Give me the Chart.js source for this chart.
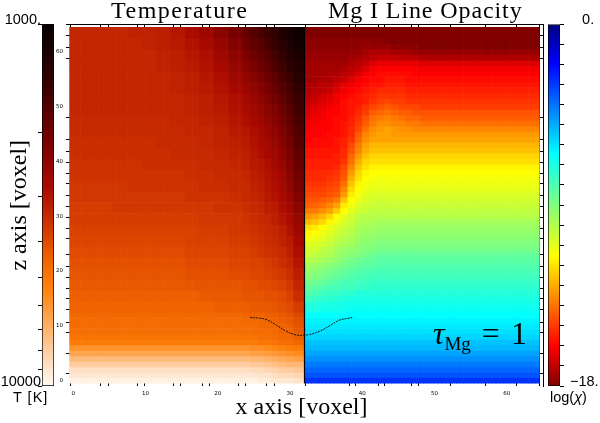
<!DOCTYPE html>
<html>
<head>
<meta charset="utf-8">
<title>Temperature and Mg I line opacity</title>
<script src="https://cdn.jsdelivr.net/npm/chart.js@4"></script>
<style>
	body { margin: 0; background: #fff; }
	#wrap { position: relative; width: 600px; height: 423px; overflow: hidden; }
	canvas { position: absolute; left: 0; top: 0; }
	#tempbar { left: 0; }
	#chibar { left: 500px; }
	.lab { position: absolute; white-space: nowrap; color: #000; line-height: 1; }
	.serif { font-family: "Liberation Serif", serif; }
	.sans { font-family: "Liberation Sans", sans-serif; }
</style>
</head>
<body>
<div id="wrap">
	<canvas id="main" width="600" height="423"></canvas>
	<canvas id="tempbar" width="56" height="423"></canvas>
	<canvas id="chibar" width="100" height="423"></canvas>
	<div class="lab serif" style="left:111px;top:-2px;font-size:24px;letter-spacing:1.5px">Temperature</div>
	<div class="lab serif" style="left:328px;top:-2px;font-size:24px;letter-spacing:.9px">Mg I Line Opacity</div>
	<div class="lab serif" style="left:433px;top:317px;font-size:32px;word-spacing:3px"><i>τ</i><span style="font-size:19px;position:relative;top:6px">Mg</span> = 1</div>
	<div class="lab sans" style="left:13px;top:390px;font-size:14.5px;letter-spacing:1px">T [K]</div>
	<div class="lab sans" style="left:550px;top:390px;font-size:14.5px">log(<i>χ</i>)</div>
</div>
<script>
// cell edges in voxels, the coarser cells are where the picture hardly changes
const xEdgesTemp = [0, 2, 4, 6, 8, 10, 12, 14, 16, 18, 20, 22, 24, 25, 26, 27, 28, 29, 30, 31, 32.5]
const xEdgesChi = [32.5, 33.5, 34.5, 35.5, 36.5, 37.5, 38.5, 39.5, 40.5, 41.5, 42.5, 43.5, 44.5, 45.5, 46.5, 47.5, 48.5, 49.5, 50.5, 51.5, 52.5, 65]
const zEdgesTemp = [65, 63, 61, 59, 57, 55, 53, 51, 49, 47, 45, 43, 41, 39, 37, 35, 33, 31, 29, 27, 25, 23, 21, 19, 17, 15, 13, 12, 11, 10, 9, 8, 7, 6, 5, 4, 3, 2, 1, 0]
const zEdgesChi = [65, 64, 63, 62, 61, 60, 59, 58, 57, 56, 55, 54, 53, 52, 51, 50, 49, 48, 47, 46, 45, 44, 43, 42, 41, 40, 39, 38, 37, 36, 35, 34, 33, 32, 31, 30, 29, 28, 27, 26, 25, 24, 23, 22, 21, 20, 19, 18, 17, 16, 15, 14, 13, 12, 11, 10, 9, 8, 7, 6, 5, 4, 3, 2, 1, 0]

// percent along the temperature colour bar, 0 is the 10000 K end
const tempRows = [
	[48,48,48,48,49,49,50,52,55,58,63,68,73,76,79,83,86,90,94,97],
	[48,48,48,48,48,49,50,51,53,56,60,65,70,73,76,80,84,88,92,95],
	[48,48,48,48,48,48,49,50,52,54,58,62,67,70,73,77,81,85,89,93],
	[48,48,48,48,48,48,49,50,51,53,56,60,64,67,70,74,78,82,86,90],
	[48,48,48,48,48,48,48,49,50,52,54,58,61,64,67,71,75,79,83,88],
	[48,48,48,48,48,48,48,49,50,51,53,56,59,61,64,68,72,76,80,85],
	[48,48,48,48,48,48,48,48,49,50,52,54,57,59,62,65,69,73,78,83],
	[48,48,48,48,48,48,48,48,49,50,51,53,55,57,60,63,66,70,75,81],
	[47,47,47,47,47,47,47,48,48,49,50,52,54,56,58,61,64,68,73,79],
	[47,47,47,47,47,47,47,47,48,48,49,51,52,54,56,59,62,66,71,77],
	[46,46,46,46,46,46,47,47,47,48,49,50,51,53,55,57,60,64,69,75],
	[46,46,46,46,46,46,46,47,47,47,48,49,50,52,54,56,58,62,67,73],
	[45,45,45,45,45,46,46,46,46,47,47,48,49,51,52,54,57,60,65,71],
	[45,45,45,45,45,45,45,45,46,46,47,47,48,50,51,53,55,58,63,69],
	[44,44,44,44,45,45,45,45,45,46,46,47,47,49,50,52,54,57,61,67],
	[44,44,44,44,44,44,44,44,45,45,45,46,47,48,49,51,53,55,59,65],
	[43,43,43,44,44,44,44,44,44,44,45,45,46,47,48,50,51,54,57,62],
	[43,43,43,43,43,43,43,43,43,44,44,44,45,46,47,48,50,52,55,60],
	[42,42,42,42,42,42,42,42,42,43,43,44,44,45,46,47,48,50,53,58],
	[41,41,41,41,41,41,41,41,42,42,42,43,43,44,45,46,47,49,51,56],
	[40,40,40,40,40,40,40,40,41,41,41,42,42,43,44,45,46,47,50,54],
	[39,39,39,39,39,39,39,39,40,40,40,41,41,42,42,43,44,46,48,52],
	[38,38,38,38,38,38,38,38,39,39,39,40,40,41,41,42,43,44,46,50],
	[37,37,37,37,37,37,37,37,38,38,38,38,39,39,40,40,41,42,44,48],
	[36,36,36,36,36,36,36,36,36,37,37,37,38,38,38,39,39,40,42,46],
	[35,35,35,35,35,35,35,35,35,35,36,36,36,37,37,37,38,39,40,43],
	[34,34,34,34,34,34,34,34,34,34,34,34,35,35,35,36,36,37,38,41],
	[33,33,33,33,33,33,33,33,33,33,33,33,34,34,34,35,35,36,37,39],
	[33,33,33,33,33,33,33,33,33,33,33,33,33,33,34,34,34,35,36,38],
	[32,32,32,32,32,32,32,32,32,32,32,32,32,33,33,33,34,35,35,37],
	[31,31,31,31,31,31,31,31,31,31,31,31,31,31,32,32,33,34,34,36],
	[29,29,29,29,29,29,29,29,29,29,29,29,29,29,30,30,31,32,33,34],
	[23,23,23,23,23,23,23,23,23,23,23,23,23,24,24,25,26,27,28,29],
	[19,19,19,19,19,19,19,19,19,19,19,19,19,20,20,21,22,23,24,25],
	[14,14,14,14,14,14,14,14,14,14,14,14,14,15,15,16,17,18,19,20],
	[10,10,10,10,10,10,10,10,10,10,10,10,10,11,11,12,13,14,15,15],
	[6,6,6,6,6,6,6,6,6,6,6,6,6,7,7,8,9,10,10,11],
	[4,4,4,4,4,4,4,4,4,4,4,4,4,4,5,5,6,7,7,8],
	[2,2,2,2,2,2,2,2,2,2,2,2,2,2,3,3,4,4,4,5],
]

// percent along the log(chi) colour bar, 0 is the -18 end
const chiRows = [
	[0,0,0,0,0,0,0,0,0,0,0,0,0,0,0,0,0,0,0,0,0],
	[0,0,0,0,0,0,0,0,0,0,0,0,0,0,0,0,0,0,0,0,0],
	[1,1,1,1,1,1,1,1,1,1,1,0,0,0,0,0,0,0,0,0,0],
	[1,1,1,1,1,1,1,1,2,2,2,2,1,1,1,1,0,0,0,0,0],
	[2,2,2,2,2,2,2,2,3,4,4,4,3,3,3,2,2,2,2,2,2],
	[2,2,2,2,2,2,3,3,4,5,6,6,6,5,5,5,4,4,4,4,4],
	[3,3,3,3,3,3,4,5,6,8,9,9,9,9,9,9,8,8,8,8,8],
	[3,3,3,3,3,4,5,6,8,10,11,11,11,11,11,10,10,10,10,10,10],
	[3,3,3,4,4,5,6,8,10,11,12,12,12,12,12,11,11,11,11,11,11],
	[3,3,4,4,5,6,8,10,11,12,12,13,13,13,12,12,12,12,12,12,12],
	[4,4,5,5,7,9,10,11,12,13,13,14,14,14,13,13,13,13,13,13,13],
	[4,5,5,6,8,10,11,12,13,14,15,15,15,15,14,14,14,14,14,14,14],
	[5,6,7,8,10,11,12,13,14,15,16,16,16,16,15,15,15,15,15,15,15],
	[6,7,8,9,10,12,13,13,14,16,17,18,17,17,16,16,16,16,16,16,16],
	[7,8,9,10,11,12,13,14,16,18,19,20,19,18,18,18,17,17,17,17,17],
	[8,9,10,11,11,12,13,15,17,20,21,22,21,20,20,19,19,19,19,19,19],
	[9,10,10,11,12,12,14,16,19,22,23,24,23,22,21,21,20,20,20,20,20],
	[10,10,11,11,12,13,14,17,20,23,25,25,24,24,23,23,22,22,22,22,22],
	[10,11,11,11,12,13,15,18,22,25,26,27,26,25,25,24,24,24,24,24,24],
	[11,11,11,12,12,13,15,20,24,26,27,27,26,26,26,26,26,26,26,26,26],
	[11,12,12,12,13,14,16,21,25,27,27,27,27,27,27,27,27,27,27,27,27],
	[12,12,12,12,13,14,18,23,27,29,29,29,29,29,29,29,29,29,29,29,29],
	[13,13,13,13,13,15,19,24,28,30,30,30,30,30,30,30,30,30,30,30,30],
	[13,13,13,13,14,15,21,26,30,32,32,32,32,32,32,32,32,32,32,32,32],
	[14,14,14,14,14,16,22,28,32,33,33,33,33,33,33,33,33,33,33,33,33],
	[14,14,14,14,15,18,24,30,33,35,35,35,35,35,35,35,35,35,35,35,35],
	[15,15,15,15,16,19,26,32,35,36,36,36,36,36,36,36,36,36,36,36,36],
	[15,15,15,16,17,20,28,33,36,37,37,37,37,37,37,37,37,37,37,37,37],
	[16,16,16,17,18,22,30,35,37,38,38,38,38,38,38,38,38,38,38,38,38],
	[17,17,17,18,19,24,32,36,38,39,39,39,39,39,39,39,39,39,39,39,39],
	[18,18,18,19,20,26,34,37,39,40,40,40,40,40,40,40,40,40,40,40,40],
	[19,19,20,21,23,30,36,38,40,41,41,41,41,41,41,41,41,41,41,41,41],
	[20,21,22,24,27,34,37,40,41,42,42,42,42,42,42,42,42,42,42,42,42],
	[23,23,25,27,31,36,39,41,42,43,43,43,43,43,43,43,43,43,43,43,43],
	[26,27,29,32,36,39,41,43,44,44,44,44,44,44,44,44,44,44,44,44,44],
	[29,30,32,35,38,40,42,44,45,45,46,46,46,46,46,46,46,46,46,46,46],
	[33,34,36,38,40,42,43,45,46,46,47,47,47,47,47,47,47,47,47,47,47],
	[35,36,38,39,41,43,44,46,47,47,48,48,48,48,48,48,48,48,48,48,48],
	[37,38,39,41,43,44,45,47,48,48,49,49,49,49,49,49,49,49,49,49,49],
	[39,40,41,42,44,45,46,48,49,49,50,50,50,50,50,50,50,50,50,50,50],
	[41,41,43,44,46,47,48,49,50,50,51,51,51,51,51,51,51,51,51,51,51],
	[42,43,44,45,47,48,49,50,51,52,53,53,53,53,53,53,53,53,53,53,53],
	[44,45,46,47,48,50,51,52,53,53,54,54,54,54,54,54,54,54,54,54,54],
	[46,47,48,49,50,51,52,53,54,54,55,55,55,55,55,55,55,55,55,55,55],
	[48,49,50,51,52,53,54,55,55,56,56,56,56,56,56,56,56,56,56,56,56],
	[49,50,51,52,53,54,55,56,56,57,57,57,57,57,57,57,57,57,57,57,57],
	[51,52,53,54,55,56,56,57,57,58,58,58,58,58,58,58,58,58,58,58,58],
	[53,54,55,56,56,57,57,58,58,59,59,59,59,59,59,59,59,59,59,59,59],
	[55,56,57,58,58,59,59,60,60,60,60,60,60,60,60,60,60,60,60,60,60],
	[57,58,59,59,60,60,61,61,61,61,61,61,61,61,61,61,61,61,61,61,61],
	[60,60,61,61,61,62,62,62,62,62,62,62,62,62,62,62,62,62,62,62,62],
	[61,61,62,62,62,62,63,63,63,63,63,63,63,63,63,63,63,63,63,63,63],
	[64,64,64,64,64,64,64,64,64,64,64,64,64,64,64,64,64,64,64,64,64],
	[65,65,65,65,65,65,65,65,65,65,65,65,65,65,65,65,65,65,65,65,65],
	[66,66,66,66,66,66,66,66,66,66,66,66,66,66,66,66,66,66,66,66,66],
	[67,67,67,67,67,67,67,67,67,67,67,67,67,67,67,67,67,67,67,67,67],
	[68,68,68,68,68,68,68,68,68,68,68,68,68,68,68,68,68,68,68,68,68],
	[70,70,70,70,70,70,70,70,70,70,70,70,70,70,70,70,70,70,70,70,70],
	[71,71,71,71,71,71,71,71,71,71,71,71,71,71,71,71,71,71,71,71,71],
	[73,73,73,73,73,73,73,73,73,73,73,73,73,73,73,73,73,73,73,73,73],
	[75,75,75,75,75,75,75,75,75,75,75,75,75,75,75,75,75,75,75,75,75],
	[77,77,77,77,77,77,77,77,77,77,77,77,77,77,77,77,77,77,77,77,77],
	[79,79,79,79,79,79,79,79,79,79,79,79,79,79,79,79,79,79,79,79,79],
	[81,81,81,81,81,81,81,81,81,81,81,81,81,81,81,81,81,81,81,81,81],
	[84,84,84,84,84,84,84,84,84,84,84,84,84,84,84,84,84,84,84,84,84],
]

// the tau = 1 curve
const tauX = [25, 26.2, 27.3, 28.6, 30, 31.4, 32.5, 33.2, 34.6, 36, 37.3, 38.7, 39.1]
const tauZ = [12, 11.9, 11.6, 10.6, 9.5, 8.8, 8.8, 8.9, 9.5, 10.5, 11.5, 11.9, 12]

// tick marks that show in the gap round the image, two sets lie on top of each other
const xTickMarks = [0.1, 4.3, 5.4, 9.4, 10.4, 14.4, 15.4, 18.4, 19.4, 23.3, 24.4, 27.3, 28.4, 32.6, 38.7, 39.5, 42.7, 43.6, 47.3, 48.3, 52.7, 57.5, 61.8, 65]
const zTickMarks = [1.8, 5.5, 9.3, 11.1, 13.5, 15.5, 17.3, 19.3, 21.4, 23.5, 26.5, 28.3, 30.3, 32.3, 34.3, 36.5, 38.3, 40.3, 42.3, 44.5, 48.5, 59.3, 61.3, 63.5]
const axisLabels = [0, 10, 20, 30, 40, 50, 60]

// colour bars
const tempStops = [0, 10, 20, 27, 35, 45, 55, 70, 85, 100]
const tempColors = [[255,250,245],[255,205,160],[255,160,70],[255,130,10],[240,100,0],[205,50,0],[170,10,0],[110,0,0],[50,0,0],[5,0,0]]
const chiStops = [0, 11, 36, 64, 89, 100]
const chiColors = [[128,0,0],[255,0,0],[255,255,0],[0,255,255],[0,0,255],[0,0,128]]
const tempBarTicks = [1000, 2000, 3000, 4000, 5000, 6000, 7000, 8000, 9000, 10000]
const chiBarTicks = [-18, -17, -16, -15, -14, -13, -12, -11, -10, -9, -8, -7, -6, -5, -4, -3, -2, -1, 0]

const lookUp = (stops, colors, p) => {
	let i = 0
	while (i < stops.length - 2 && p > stops[i + 1]) i++
	const t = (p - stops[i]) / (stops[i + 1] - stops[i])
	const c = colors[i].map((v, k) => Math.round(v + (colors[i + 1][k] - v) * t))
	return `rgb(${c[0]},${c[1]},${c[2]})`
}

const columnOf = (edges, x) => {
	let i = 0
	while (i < edges.length - 2 && x >= edges[i + 1]) i++
	return i
}

// one dataset per row, half voxel wide bars so the divider falls on a bar edge
const panelRows = (rows, xEdges, zEdges, stops, colors, firstBar, lastBar) => rows.map((row, r) => {
	const data = []
	const backgroundColor = []
	for (let k = firstBar; k < lastBar; k++) {
		const x = k / 2 + 0.25
		data.push({ x, y: [zEdges[r + 1], zEdges[r]] })
		backgroundColor.push(lookUp(stops, colors, row[columnOf(xEdges, x)]))
	}
	return {
		data,
		backgroundColor,
		borderWidth: 0,
		grouped: false,
		barPercentage: 1,
		categoryPercentage: 1,
		order: 2,
	}
})

const datasets = [
	...panelRows(tempRows, xEdgesTemp, zEdgesTemp, tempStops, tempColors, 0, 65),
	...panelRows(chiRows, xEdgesChi, zEdgesChi, chiStops, chiColors, 65, 130),
]

datasets.push({
	type: 'line',
	data: [{ x: 32.5, y: 0 }, { x: 32.5, y: 65 }],
	borderColor: '#000',
	borderWidth: 1.2,
	pointRadius: 0,
	order: 1,
})
datasets.push({
	type: 'line',
	data: tauX.map((x, i) => ({ x, y: tauZ[i] })),
	borderColor: '#111',
	borderWidth: 1,
	borderDash: [2, 1],
	tension: 0.4,
	pointRadius: 0,
	order: 0,
})

const tickFont = { family: 'DejaVu Sans', size: 5.5 }
const titleFont = { family: 'Liberation Serif', size: 24 }

const useTicks = (marks) => (scale) => {
	scale.ticks = [...marks, ...axisLabels.map((v) => v + 0.5)].map((value) => ({ value }))
}
const markColor = (marks) => (ctx) => (ctx.tick && marks.includes(ctx.tick.value) ? '#000' : 'rgba(0,0,0,0)')
const labelOf = (value) => (axisLabels.includes(value - 0.5) ? String(value - 0.5) : '')

new Chart(document.getElementById('main'), {
	type: 'bar',
	data: { datasets },
	options: {
		responsive: false,
		animation: false,
		events: [],
		plugins: { legend: { display: false }, tooltip: { enabled: false } },
		scales: {
			x: {
				type: 'linear',
				offset: false,
				min: -0.5,
				max: 65.5,
				position: 'bottom',
				afterBuildTicks: useTicks(xTickMarks),
				afterFit: (scale) => { scale.height = 37 },
				border: { display: false },
				grid: { offset: false, color: markColor(xTickMarks), drawTicks: false },
				ticks: { autoSkip: false, maxRotation: 0, font: tickFont, color: '#000', padding: 4, callback: labelOf },
				title: { display: true, text: 'x axis [voxel]\u00a0', font: titleFont, color: '#000', padding: { top: 0, bottom: 1 } },
			},
			y: {
				type: 'linear',
				min: -0.5,
				max: 65.5,
				position: 'left',
				afterBuildTicks: useTicks(zTickMarks),
				afterFit: (scale) => { scale.width = 66 },
				border: { display: false },
				grid: { color: markColor(zTickMarks), drawTicks: false },
				ticks: { autoSkip: false, font: tickFont, color: '#000', padding: 3, callback: labelOf },
				title: { display: true, text: 'z axis [voxel]', font: titleFont, color: '#000', padding: { top: 5, bottom: 0 } },
			},
			xTop: {
				type: 'linear',
				axis: 'x',
				min: -0.5,
				max: 65.5,
				position: 'top',
				afterFit: (scale) => { scale.height = 24.5 },
				border: { color: '#000', width: 1 },
				grid: { display: false },
				ticks: { display: false },
			},
			yRight: {
				type: 'linear',
				axis: 'y',
				min: -0.5,
				max: 65.5,
				position: 'right',
				afterFit: (scale) => { scale.width = 57 },
				border: { color: '#000', width: 1 },
				grid: { display: false },
				ticks: { display: false },
			},
		},
	},
})

const barGradient = (stops, colors) => (ctx) => {
	const area = ctx.chart.chartArea
	if (!area) return '#000'
	const g = ctx.chart.ctx.createLinearGradient(0, area.bottom, 0, area.top)
	stops.forEach((s) => g.addColorStop(s / 100, lookUp(stops, colors, s)))
	return g
}

const colourBar = (id, range, fill, yScale, padding) => new Chart(document.getElementById(id), {
	type: 'bar',
	data: {
		labels: [''],
		datasets: [{
			data: [range],
			backgroundColor: fill,
			borderColor: '#000',
			borderWidth: 1,
			borderSkipped: false,
			barPercentage: 1,
			categoryPercentage: 1,
		}],
	},
	options: {
		responsive: false,
		animation: false,
		events: [],
		layout: { padding },
		plugins: { legend: { display: false }, tooltip: { enabled: false } },
		scales: { x: { display: false }, y: yScale },
	},
})

const barLabelFont = { family: 'Liberation Sans', size: 14.5 }

colourBar('tempbar', [1000, 10000], barGradient(tempStops, tempColors), {
	type: 'logarithmic',
	reverse: true,
	min: 1000,
	max: 10000,
	afterBuildTicks: (scale) => { scale.ticks = tempBarTicks.map((value) => ({ value })) },
	afterFit: (scale) => { scale.width = 42 },
	border: { display: false },
	grid: { drawOnChartArea: false, tickLength: 4, color: '#000' },
	ticks: {
		autoSkip: false,
		font: barLabelFont,
		color: '#000',
		padding: -3,
		labelOffset: -4,
		callback: (v) => (v === 1000 ? '1000.' : v === 10000 ? '10000' : ''),
	},
}, { top: 24, bottom: 37, right: 2 })

colourBar('chibar', [-18, 0], barGradient(chiStops, chiColors), {
	type: 'linear',
	position: 'right',
	min: -18,
	max: 0,
	afterBuildTicks: (scale) => { scale.ticks = chiBarTicks.map((value) => ({ value })) },
	afterFit: (scale) => { scale.width = 40 },
	border: { display: false },
	grid: { drawOnChartArea: false, tickLength: 4, color: '#000' },
	ticks: {
		autoSkip: false,
		font: barLabelFont,
		color: '#000',
		padding: 6,
		labelOffset: -4,
		callback: (v) => (v === 0 ? '\u00a0\u00a0\u00a00.' : v === -18 ? '−18.' : ''),
	},
}, { top: 24, bottom: 37, left: 48 })
</script>
</body>
</html>
